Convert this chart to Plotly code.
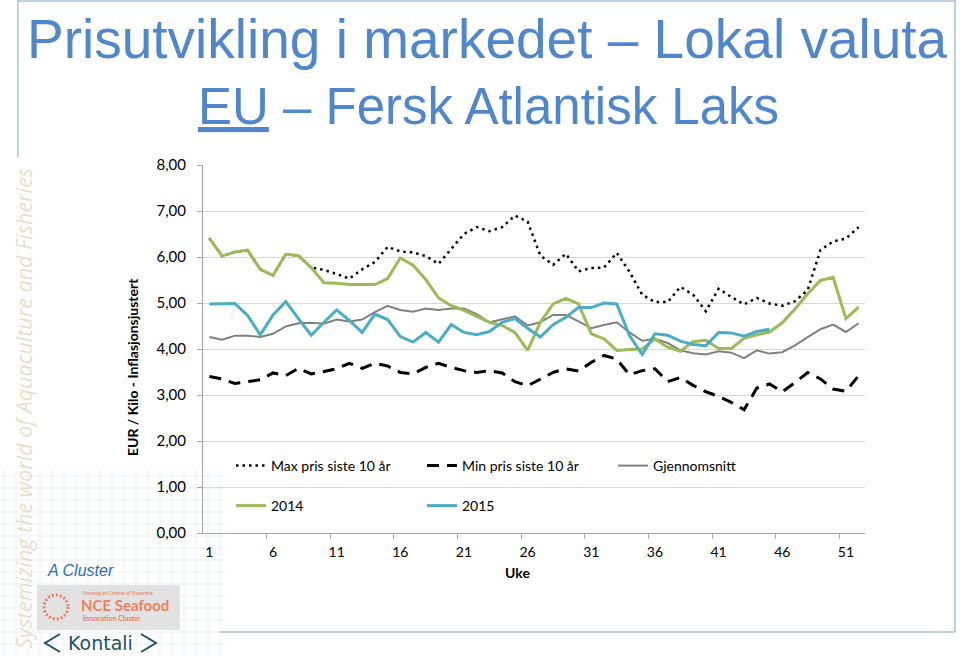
import plotly.graph_objects as go

weeks = list(range(1, 53))

max_10y = [6.41, 6.02, 6.11, 6.15, 5.73, 5.60, 6.06, 6.03, 5.77, 5.72,
           5.63, 5.53, 5.73, 5.89, 6.22, 6.12, 6.10, 6.02, 5.85, 6.18,
           6.50, 6.65, 6.56, 6.65, 6.90, 6.77, 6.03, 5.83, 6.07, 5.69,
           5.76, 5.77, 6.09, 5.68, 5.18, 5.02, 5.02, 5.35, 5.18, 4.82,
           5.31, 5.13, 4.97, 5.11, 4.99, 4.94, 5.04, 5.28, 6.15, 6.34,
           6.40, 6.65]

min_10y = [3.40, 3.35, 3.25, 3.29, 3.33, 3.48, 3.42, 3.58, 3.46, 3.51,
           3.57, 3.69, 3.58, 3.69, 3.63, 3.49, 3.46, 3.60, 3.69, 3.60,
           3.53, 3.49, 3.53, 3.48, 3.29, 3.20, 3.35, 3.49, 3.57, 3.52,
           3.71, 3.86, 3.78, 3.44, 3.53, 3.57, 3.29, 3.38, 3.21, 3.07,
           2.97, 2.84, 2.68, 3.15, 3.24, 3.07, 3.27, 3.49, 3.35, 3.13,
           3.08, 3.42]

avg = [4.26, 4.20, 4.29, 4.29, 4.26, 4.33, 4.49, 4.56, 4.57, 4.55,
       4.64, 4.60, 4.64, 4.80, 4.94, 4.85, 4.81, 4.88, 4.85, 4.88,
       4.88, 4.76, 4.58, 4.65, 4.71, 4.51, 4.58, 4.74, 4.74, 4.60,
       4.45, 4.52, 4.58, 4.36, 4.18, 4.22, 4.13, 3.97, 3.91, 3.88,
       3.95, 3.92, 3.80, 3.97, 3.90, 3.93, 4.08, 4.26, 4.43, 4.53,
       4.37, 4.56]

y2014 = [6.41, 6.02, 6.11, 6.15, 5.73, 5.60, 6.06, 6.03, 5.77, 5.44,
         5.43, 5.40, 5.40, 5.40, 5.53, 5.98, 5.82, 5.51, 5.11, 4.94,
         4.84, 4.71, 4.58, 4.51, 4.36, 3.97, 4.58, 4.98, 5.10, 4.98,
         4.33, 4.22, 3.97, 3.99, 4.00, 4.22, 4.04, 3.95, 4.16, 4.19,
         4.01, 4.01, 4.23, 4.31, 4.37, 4.57, 4.87, 5.20, 5.49, 5.56,
         4.66, 4.91]

y2015 = [4.98, 4.98, 4.99, 4.73, 4.31, 4.74, 5.03, 4.66, 4.30, 4.58,
         4.85, 4.62, 4.36, 4.76, 4.64, 4.27, 4.15, 4.36, 4.15, 4.53,
         4.36, 4.31, 4.38, 4.58, 4.66, 4.45, 4.26, 4.53, 4.69, 4.90,
         4.90, 5.00, 4.98, 4.29, 3.88, 4.33, 4.30, 4.17, 4.10, 4.07,
         4.36, 4.35, 4.28, 4.38, 4.43] + [None] * 7

x_label_vals = list(range(1, 53, 5))
x_tick_marks = [v + 0.5 for v in range(5, 51, 5)]
y_ticks = list(range(0, 9))

W, H = 960, 656
L, R, T, B = 203, 95, 165, 123
PW, PH = W - L - R, H - T - B


def px(x):
    return (x - L) / PW


def py(y):
    return (H - B - y) / PH


FONT = "Lato, Carlito, 'Open Sans', sans-serif"
TITLE_FONT = "'Liberation Sans', Arial, sans-serif"

fig = go.Figure()
fig.add_trace(go.Scatter(x=weeks, y=max_10y, mode="lines", name="Max pris siste 10 år",
                         line=dict(color="#000000", width=2.5, dash="2.5px,4px"), legend="legend"))
fig.add_trace(go.Scatter(x=weeks, y=min_10y, mode="lines", name="Min pris siste 10 år",
                         line=dict(color="#000000", width=3, dash="12px,8px"), legend="legend"))
fig.add_trace(go.Scatter(x=weeks, y=avg, mode="lines", name="Gjennomsnitt",
                         line=dict(color="#808080", width=2), legend="legend"))
fig.add_trace(go.Scatter(x=weeks, y=y2014, mode="lines", name="2014",
                         line=dict(color="#9BBB59", width=3), legend="legend2"))
fig.add_trace(go.Scatter(x=weeks, y=y2015, mode="lines", name="2015",
                         line=dict(color="#4BACC6", width=3), legend="legend2"))

legend_common = dict(orientation="h", entrywidth=146, entrywidthmode="pixels",
                     bgcolor="rgba(0,0,0,0)", borderwidth=0, xanchor="left", yanchor="middle",
                     font=dict(family=FONT, size=14, color="#000000"), itemclick=False,
                     itemdoubleclick=False)

shapes = []
line_col = "#A9C3DE"
# slide frame
shapes.append(dict(type="line", xref="paper", yref="paper", x0=px(18), x1=px(18), y0=py(0), y1=py(157),
                   line=dict(color=line_col, width=1.5)))
shapes.append(dict(type="line", xref="paper", yref="paper", x0=px(18), x1=px(956), y0=py(1), y1=py(1),
                   line=dict(color=line_col, width=1.5)))
shapes.append(dict(type="line", xref="paper", yref="paper", x0=px(955), x1=px(955), y0=py(0), y1=py(632),
                   line=dict(color=line_col, width=1.5)))
shapes.append(dict(type="line", xref="paper", yref="paper", x0=px(220), x1=px(955), y0=py(632), y1=py(632),
                   line=dict(color=line_col, width=1.5)))
# faint decorative grid bottom-left
for gx in range(4, 225, 12):
    shapes.append(dict(type="line", xref="paper", yref="paper", x0=px(gx), x1=px(gx), y0=py(470), y1=py(656),
                       line=dict(color="rgba(160,190,225,0.22)", width=1), layer="below"))
for gy in range(476, 656, 12):
    shapes.append(dict(type="line", xref="paper", yref="paper", x0=px(0), x1=px(225), y0=py(gy), y1=py(gy),
                       line=dict(color="rgba(160,190,225,0.22)", width=1), layer="below"))
# NCE box
shapes.append(dict(type="rect", xref="paper", yref="paper", x0=px(37), x1=px(180), y0=py(585), y1=py(630),
                   fillcolor="#E2E2E2", line=dict(width=0)))
shapes.append(dict(type="circle", xref="paper", yref="paper", x0=px(44), x1=px(68), y0=py(595), y1=py(619),
                   line=dict(color="#EE7F5F", width=3, dash="2px,2px")))
# Kontali chevrons
shapes.append(dict(type="path", xref="paper", yref="paper",
                   path=f"M {px(60)} {py(634)} L {px(45)} {py(643)} L {px(60)} {py(652)}",
                   line=dict(color="#1E5266", width=2)))
shapes.append(dict(type="path", xref="paper", yref="paper",
                   path=f"M {px(141)} {py(634)} L {px(156)} {py(643)} L {px(141)} {py(652)}",
                   line=dict(color="#1E5266", width=2)))

annotations = [
    dict(text="Prisutvikling i markedet – Lokal valuta", x=px(487), y=py(39), xref="paper", yref="paper",
         showarrow=False, xanchor="center", yanchor="middle",
         font=dict(family=TITLE_FONT, size=55, color="#4F86CC")),
    dict(text="<u>EU</u> – Fersk Atlantisk Laks", x=px(488), y=py(106), xref="paper", yref="paper",
         showarrow=False, xanchor="center", yanchor="middle",
         font=dict(family=TITLE_FONT, size=51, color="#4F86CC")),
    dict(text="<b>EUR / Kilo - Inflasjonsjustert</b>", x=px(132), y=py(367), xref="paper", yref="paper",
         showarrow=False, textangle=-90, xanchor="center", yanchor="middle",
         font=dict(family=FONT, size=14, color="#000000")),
    dict(text="<b>Uke</b>", x=px(517), y=py(572), xref="paper", yref="paper",
         showarrow=False, xanchor="center", yanchor="middle",
         font=dict(family=FONT, size=14, color="#000000")),
    dict(text="<i>Systemizing the world of Aquaculture and Fisheries</i>", x=px(23), y=py(409),
         xref="paper", yref="paper", showarrow=False, textangle=-90, xanchor="center", yanchor="middle",
         font=dict(family="'Open Sans', sans-serif", size=21.5, color="#E9DFC8")),
    dict(text="<i>A Cluster</i>", x=px(45), y=py(570), xref="paper", yref="paper", showarrow=False,
         xanchor="left", yanchor="middle", font=dict(family=TITLE_FONT, size=16, color="#2A6EBB")),
    dict(text="Norwegian Centres of Expertise", x=px(81), y=py(593), xref="paper", yref="paper",
         showarrow=False, xanchor="left", yanchor="middle",
         font=dict(family=FONT, size=5, color="#EE7F5F")),
    dict(text="<b>NCE Seafood</b>", x=px(79), y=py(605), xref="paper", yref="paper",
         showarrow=False, xanchor="left", yanchor="middle",
         font=dict(family=FONT, size=15, color="#EE7F5F")),
    dict(text="<b>Innovation Cluster</b>", x=px(81), y=py(618), xref="paper", yref="paper",
         showarrow=False, xanchor="left", yanchor="middle",
         font=dict(family=FONT, size=7, color="#EE7F5F")),
    dict(text="Kontali", x=px(100), y=py(643), xref="paper", yref="paper",
         showarrow=False, xanchor="center", yanchor="middle",
         font=dict(family="'DejaVu Sans', sans-serif", size=19, color="#1E5266")),
]

fig.update_layout(
    width=W, height=H,
    margin=dict(l=L, r=R, t=T, b=B, pad=0),
    paper_bgcolor="#FFFFFF", plot_bgcolor="#FFFFFF",
    separators=", ",
    font=dict(family=FONT, size=14, color="#000000"),
    showlegend=True,
    legend=dict(x=px(231), y=py(466), **legend_common),
    legend2=dict(x=px(231), y=py(506), **legend_common),
    shapes=shapes,
    annotations=annotations,
    xaxis=dict(range=[0.5, 52.5], tickmode="array", tickvals=x_label_vals,
               ticktext=[str(v) for v in x_label_vals], ticks="", showgrid=False,
               showline=True, linecolor="#A6A6A6", linewidth=1, zeroline=False,
               ticklabelstandoff=6, tickfont=dict(family=FONT, size=14, color="#000000"),
               minor=dict(tickmode="array", tickvals=x_tick_marks, ticks="outside", ticklen=5,
                          tickcolor="#A6A6A6", tickwidth=1, showgrid=False),
               fixedrange=True),
    yaxis=dict(range=[0, 8], tickmode="array", tickvals=y_ticks, tickformat=".2f",
               showgrid=True, gridcolor="#D9D9D9", gridwidth=1, zeroline=False,
               showline=True, linecolor="#A6A6A6", linewidth=1,
               ticks="outside", ticklen=5, tickcolor="#A6A6A6",
               ticklabelstandoff=8, tickfont=dict(family=FONT, size=15, color="#000000"),
               fixedrange=True),
)

fig.write_html("out.html", config={"displayModeBar": False},
               post_script="document.body.style.margin='0px';")
